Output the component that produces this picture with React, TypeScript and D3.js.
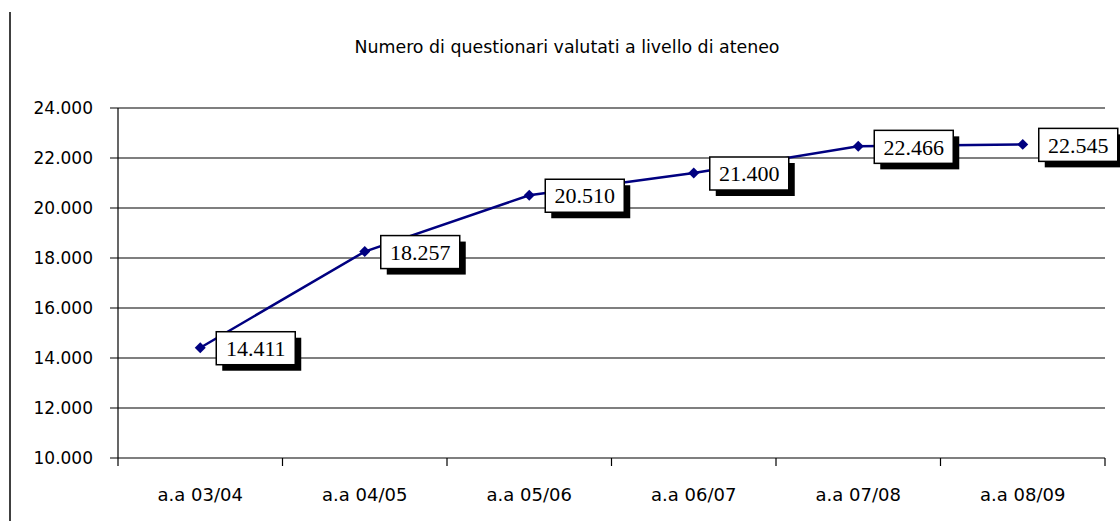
import React from "react";
import * as d3 from "d3";

const categories = ["a.a 03/04", "a.a 04/05", "a.a 05/06", "a.a 06/07", "a.a 07/08", "a.a 08/09"];
const values = [14411, 18257, 20510, 21400, 22466, 22545];
const yTicks = [10000, 12000, 14000, 16000, 18000, 20000, 22000, 24000];
const title = "Numero di questionari valutati  a livello di ateneo";

const W = 1120;
const H = 521;
const left = 118;
const right = 1105;
const top = 108;
const bottom = 458;

const fmt = (v: number) => d3.format(",")(v).replace(/,/g, ".");

export default function App() {
  const x = d3.scaleBand<string>().domain(categories).range([left, right]);
  const y = d3.scaleLinear().domain([10000, 24000]).range([bottom, top]);
  const cx = (c: string) => (x(c) as number) + x.bandwidth() / 2;

  const line = d3
    .line<number>()
    .x((_, i) => cx(categories[i]))
    .y((d) => y(d));

  // square turned 45deg, like the excel diamond marker
  const marker = d3.symbol(d3.symbolSquare, 60)();
  const boundaries = categories.map((c) => x(c) as number).concat([right]);

  return (
    <div style={{ position: "absolute", left: 0, top: 0 }}>
      <svg width={W} height={H} style={{ display: "block", background: "#fff" }}>
        <line x1={10} x2={10} y1={12} y2={H} stroke="#000" strokeWidth={1.5} />
        <text
          x={567}
          y={53}
          textAnchor="middle"
          fontFamily="DejaVu Sans Condensed, DejaVu Sans, sans-serif"
          fontSize={17}
          textLength={425}
          lengthAdjust="spacingAndGlyphs"
        >
          {title}
        </text>

        {yTicks.map((t) => (
          <g key={t}>
            <line x1={110} x2={right} y1={y(t)} y2={y(t)} stroke="#000" strokeWidth={1.2} />
            <text
              x={93}
              y={y(t)}
              dy="0.36em"
              textAnchor="end"
              fontFamily="DejaVu Sans, sans-serif"
              fontSize={17}
            >
              {fmt(t)}
            </text>
          </g>
        ))}
        <line x1={left} x2={left} y1={top} y2={bottom} stroke="#000" strokeWidth={1.2} />
        {boundaries.map((b, i) => (
          <line key={i} x1={b} x2={b} y1={bottom} y2={bottom + 8} stroke="#000" strokeWidth={1.2} />
        ))}
        {categories.map((c) => (
          <text
            key={c}
            x={cx(c)}
            y={501}
            textAnchor="middle"
            fontFamily="DejaVu Sans, sans-serif"
            fontSize={18}
          >
            {c}
          </text>
        ))}

        <path d={line(values) || ""} fill="none" stroke="#000080" strokeWidth={2.5} />
        {values.map((v, i) => (
          <path
            key={i}
            d={marker || ""}
            transform={`translate(${cx(categories[i])},${y(v)}) rotate(45)`}
            fill="#000080"
          />
        ))}

        {values.map((v, i) => {
          const px = cx(categories[i]) + 16;
          const py = y(v) - 16;
          return (
            <g key={i}>
              <rect x={px + 6} y={py + 6} width={79} height={33} fill="#000" />
              <rect x={px} y={py} width={79} height={33} fill="#fff" stroke="#000" strokeWidth={1.5} />
              <text
                x={px + 39.5}
                y={py + 16.5}
                dy="0.35em"
                textAnchor="middle"
                fontFamily="Liberation Serif, serif"
                fontSize={22}
              >
                {fmt(v)}
              </text>
            </g>
          );
        })}
      </svg>
    </div>
  );
}
